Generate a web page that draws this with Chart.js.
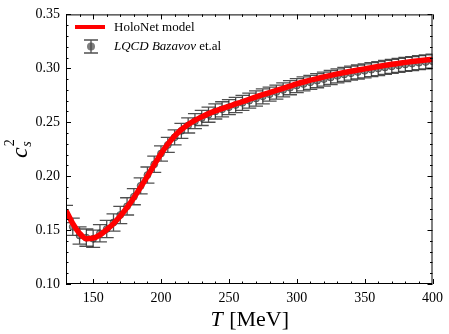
<!DOCTYPE html>
<html>
<head>
<meta charset="utf-8">
<script src="https://cdn.jsdelivr.net/npm/chart.js@4"></script>
<style>
  body { margin: 0; background: #fff; }
  canvas { display: block; }
</style>
</head>
<body>
<canvas id="chart" width="449" height="334"></canvas>
<script>
// temperature grid (MeV)
const temps = [130,135,140,145,150,155,160,165,170,175,180,185,190,195,200,205,210,215,220,225,
  230,235,240,245,250,255,260,265,270,275,280,285,290,295,300,305,310,315,320,325,
  330,335,340,345,350,355,360,365,370,375,380,385,390,395,400];

// HoloNet model c_s^2
const modelCs2 = [0.168,0.156,0.147,0.142,0.1425,0.1455,0.1505,0.156,0.163,0.171,0.180,0.1898,0.2,0.2105,0.2208,0.2297,0.2372,0.2432,0.248,0.2518,
  0.255,0.258,0.2605,0.2627,0.2648,0.267,0.269,0.2713,0.2735,0.2755,0.2775,0.2795,0.2815,0.2835,0.2855,0.2873,0.289,0.2905,0.292,0.2934,
  0.2948,0.2961,0.2973,0.2984,0.2995,0.3006,0.3017,0.3027,0.3037,0.3046,0.3055,0.3063,0.3070,0.3077,0.3083];

// lattice QCD (Bazavov et al.) values and errors
const latticeCs2 = [0.165,0.153,0.145,0.143,0.142,0.147,0.151,0.157,0.164,0.172,0.181,0.191,0.201,0.211,0.221,0.229,0.236,0.242,0.247,0.251,
  0.254,0.257,0.260,0.262,0.264,0.266,0.268,0.270,0.272,0.274,0.276,0.278,0.280,0.282,0.284,0.2855,0.287,0.2885,0.290,0.2915,
  0.293,0.2943,0.2955,0.2966,0.2977,0.2988,0.2998,0.3008,0.3018,0.3027,0.3036,0.3044,0.3052,0.3059,0.3066];
const latticeErr = [0.008,0.008,0.008,0.008,0.008,0.008,0.008,0.008,0.008,0.008,0.0075,0.0075,0.0075,0.0075,0.007,0.007,0.007,0.007,0.007,0.007,
  0.007,0.007,0.007,0.007,0.007,0.007,0.007,0.007,0.007,0.007,0.0065,0.0065,0.0065,0.0065,0.0065,0.0065,0.0065,0.0065,0.0065,0.0065,
  0.0065,0.0065,0.0065,0.0065,0.0065,0.0065,0.0065,0.0065,0.0065,0.0065,0.0065,0.0065,0.0065,0.0065,0.0065];

const xTicks = [150, 200, 250, 300, 350, 400];
const yTicks = [0.10, 0.15, 0.20, 0.25, 0.30, 0.35];
const xMinor = [130,140,160,170,180,190,210,220,230,240,260,270,280,290,310,320,330,340,360,370,380,390];
const yMinor = [0.11,0.12,0.13,0.14,0.16,0.17,0.18,0.19,0.21,0.22,0.23,0.24,0.26,0.27,0.28,0.29,0.31,0.32,0.33,0.34];

const SERIF = '"Liberation Serif", "DejaVu Serif", serif';
const BAR_COLOR = 'rgba(35,35,35,0.8)';

const errorBars = {
  id: 'errorBars',
  beforeDatasetsDraw(chart) {
    const { ctx, chartArea, scales: { x, y } } = chart;
    ctx.save();
    ctx.beginPath();
    ctx.rect(chartArea.left, chartArea.top, chartArea.right - chartArea.left, chartArea.bottom - chartArea.top);
    ctx.clip();
    ctx.strokeStyle = BAR_COLOR;
    ctx.lineWidth = 1.3;
    temps.forEach((t, i) => {
      const px = x.getPixelForValue(t);
      const lo = y.getPixelForValue(latticeCs2[i] - latticeErr[i]);
      const hi = y.getPixelForValue(latticeCs2[i] + latticeErr[i]);
      ctx.beginPath();
      ctx.moveTo(px, lo); ctx.lineTo(px, hi);
      ctx.moveTo(px - 7, lo); ctx.lineTo(px + 7, lo);
      ctx.moveTo(px - 7, hi); ctx.lineTo(px + 7, hi);
      ctx.stroke();
    });
    ctx.restore();
  }
};

const frame = {
  id: 'frame',
  afterDraw(chart) {
    const { ctx, chartArea: a, scales: { x, y } } = chart;
    ctx.save();
    ctx.strokeStyle = '#000';
    ctx.lineWidth = 1;
    ctx.strokeRect(a.left + 0.5, a.top + 0.5, a.right - a.left - 1, a.bottom - a.top - 1);
    ctx.beginPath();
    const xt = (v, len) => {
      const p = Math.round(x.getPixelForValue(v)) + 0.5;
      ctx.moveTo(p, a.bottom); ctx.lineTo(p, a.bottom - len);
      ctx.moveTo(p, a.top); ctx.lineTo(p, a.top + len);
    };
    const yt = (v, len) => {
      const p = Math.round(y.getPixelForValue(v)) + 0.5;
      ctx.moveTo(a.left, p); ctx.lineTo(a.left + len, p);
      ctx.moveTo(a.right, p); ctx.lineTo(a.right - len, p);
    };
    xTicks.forEach(v => xt(v, 5));
    xMinor.forEach(v => xt(v, 2.5));
    yTicks.forEach(v => yt(v, 5));
    yMinor.forEach(v => yt(v, 2.5));
    ctx.stroke();

    // axis titles
    ctx.fillStyle = '#000';
    ctx.textBaseline = 'alphabetic';
    ctx.font = 'italic 22px ' + SERIF;
    const tW = ctx.measureText('T').width;
    ctx.font = '22px ' + SERIF;
    const restW = ctx.measureText(' [MeV]').width;
    const cx = (a.left + a.right) / 2;
    let sx = cx - (tW + restW) / 2;
    ctx.font = 'italic 22px ' + SERIF;
    ctx.fillText('T', sx, 326);
    ctx.font = '22px ' + SERIF;
    ctx.fillText(' [MeV]', sx + tW + 1, 326);

    ctx.save();
    ctx.translate(27, 158);
    ctx.rotate(-Math.PI / 2);
    ctx.font = 'italic 24px ' + SERIF;
    ctx.fillText('c', 0, 0);
    const cW = ctx.measureText('c').width;
    ctx.font = '14px ' + SERIF;
    ctx.fillText('2', cW + 1, -13);
    ctx.font = 'italic 14px ' + SERIF;
    ctx.fillText('s', cW + 0.5, 4);
    ctx.restore();

    // legend
    ctx.strokeStyle = '#ff0000';
    ctx.lineWidth = 4;
    ctx.beginPath();
    ctx.moveTo(75, 27); ctx.lineTo(105, 27);
    ctx.stroke();
    ctx.font = '13px ' + SERIF;
    ctx.textBaseline = 'middle';
    ctx.fillText('HoloNet model', 114, 27.5);

    ctx.strokeStyle = BAR_COLOR;
    ctx.lineWidth = 1.3;
    ctx.beginPath();
    ctx.moveTo(91, 40); ctx.lineTo(91, 53);
    ctx.moveTo(84, 40); ctx.lineTo(98, 40);
    ctx.moveTo(84, 53); ctx.lineTo(98, 53);
    ctx.stroke();
    ctx.fillStyle = 'rgba(70,70,70,0.7)';
    ctx.beginPath();
    ctx.arc(91, 46.5, 4, 0, Math.PI * 2);
    ctx.fill();
    ctx.fillStyle = '#000';
    ctx.font = 'italic 13px ' + SERIF;
    const lq = 'LQCD Bazavov ';
    ctx.fillText(lq, 114, 47);
    const lqW = ctx.measureText(lq).width;
    ctx.font = '13px ' + SERIF;
    ctx.fillText('et.al', 114 + lqW, 47);
    ctx.restore();
  }
};

new Chart(document.getElementById('chart'), {
  type: 'scatter',
  data: {
    datasets: [
      {
        label: 'HoloNet model',
        data: temps.map((t, i) => ({ x: t, y: modelCs2[i] })),
        showLine: true,
        borderColor: '#ff0000',
        borderWidth: 5.5,
        pointRadius: 0,
        cubicInterpolationMode: 'monotone',
        order: 0
      },
      {
        label: 'LQCD Bazavov et.al',
        data: temps.map((t, i) => ({ x: t, y: latticeCs2[i] })),
        showLine: false,
        pointRadius: 3.5,
        backgroundColor: 'rgba(70,70,70,0.6)',
        borderColor: 'rgba(40,40,40,0.6)',
        borderWidth: 1,
        order: 1
      }
    ]
  },
  options: {
    responsive: false,
    animation: false,
    devicePixelRatio: 1,
    layout: { padding: { left: 0, top: 11, right: 16, bottom: 0 } },
    plugins: { legend: { display: false }, tooltip: { enabled: false } },
    scales: {
      x: {
        type: 'linear',
        min: 130,
        max: 400,
        grid: { display: false, drawTicks: false },
        border: { display: false },
        afterBuildTicks: s => { s.ticks = xTicks.map(v => ({ value: v })); },
        afterFit: s => { s.height = 50; },
        ticks: { color: '#000', padding: 6, maxRotation: 0, font: { family: SERIF, size: 14 } }
      },
      y: {
        min: 0.10,
        max: 0.35,
        grid: { display: false, drawTicks: false },
        border: { display: false },
        afterBuildTicks: s => { s.ticks = yTicks.map(v => ({ value: v })); },
        afterFit: s => { s.width = 66; },
        ticks: { color: '#000', padding: 6, font: { family: SERIF, size: 14 }, callback: v => v.toFixed(2) }
      }
    }
  },
  plugins: [errorBars, frame]
});
</script>
</body>
</html>
